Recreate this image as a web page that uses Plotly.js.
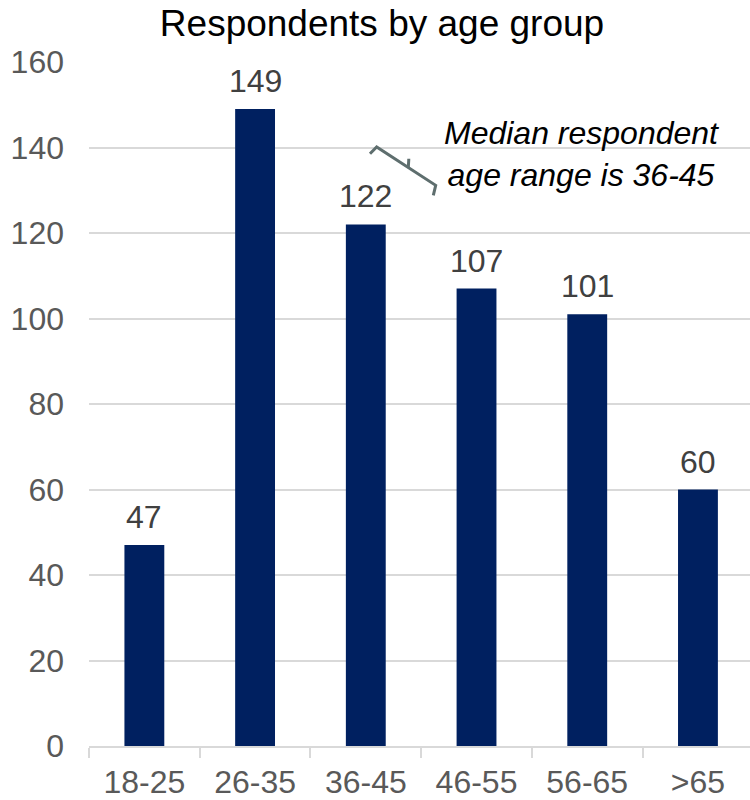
<!DOCTYPE html>
<html>
<head>
<meta charset="utf-8">
<script src="https://cdn.plot.ly/plotly-3.0.1.min.js"></script>
<style>
  html, body { margin: 0; padding: 0; background: #ffffff; }
  #chart { width: 750px; height: 800px; }
</style>
</head>
<body>
<div id="chart"></div>
<script>
// Survey respondents per age bracket
const ageGroups = ['18-25', '26-35', '36-45', '46-55', '56-65', '>65'];
const respondents = [47, 149, 122, 107, 101, 60];
const yTicks = [0, 20, 40, 60, 80, 100, 120, 140, 160];

const chartTitle = 'Respondents by age group';
const noteLines = ['Median respondent', 'age range is 36-45'];

const FONT = 'Liberation Sans, Arial, Helvetica, sans-serif';

// Plot area in page pixels, used to place the callout bracket and note
const PLOT = { left: 89, right: 750, top: 62, bottom: 746 };
function toPaper(px, py) {
  return [
    (px - PLOT.left) / (PLOT.right - PLOT.left),
    (PLOT.bottom - py) / (PLOT.bottom - PLOT.top)
  ];
}
function pathFrom(points) {
  return points.map((p, i) => {
    const q = toPaper(p[0], p[1]);
    return (i === 0 ? 'M' : 'L') + q[0].toFixed(4) + ',' + q[1].toFixed(4);
  }).join(' ');
}

const barTrace = {
  type: 'bar',
  x: ageGroups,
  y: respondents,
  marker: { color: '#002060' },
  hoverinfo: 'skip'
};

// Value labels above each bar
const valueLabels = ageGroups.map((g, i) => ({
  x: g,
  y: respondents[i],
  xref: 'x',
  yref: 'y',
  text: String(respondents[i]),
  showarrow: false,
  yanchor: 'bottom',
  yshift: 8,
  font: { family: FONT, size: 32, color: '#404040' }
}));

const notePos = toPaper(581, 154);
const note = {
  xref: 'paper',
  yref: 'paper',
  x: notePos[0],
  y: notePos[1],
  xanchor: 'center',
  yanchor: 'middle',
  align: 'center',
  showarrow: false,
  text: '<i>' + noteLines.join('<br>') + '</i>',
  font: { family: FONT, size: 32, color: '#000000' }
};

// Bracket pointing from the note towards the 36-45 bar
const bracketStyle = { color: '#5e6e6e', width: 3 };
const bracketShapes = [
  { type: 'path', xref: 'paper', yref: 'paper',
    path: pathFrom([[370, 153.7], [376.7, 147], [435.7, 185.3], [433.3, 195.3]]),
    line: bracketStyle },
  { type: 'path', xref: 'paper', yref: 'paper',
    path: pathFrom([[408.3, 167.5], [408.8, 158.7]]),
    line: bracketStyle }
];

const layout = {
  width: 750,
  height: 800,
  margin: { l: PLOT.left, r: 750 - PLOT.right, t: PLOT.top, b: 800 - PLOT.bottom },
  paper_bgcolor: '#ffffff',
  plot_bgcolor: '#ffffff',
  showlegend: false,
  bargap: 0.64,
  font: { family: FONT },
  title: {
    text: chartTitle,
    font: { family: FONT, size: 37, color: '#000000' },
    x: 382 / 750,
    xanchor: 'center',
    xref: 'container',
    y: 1 - 23 / 800,
    yanchor: 'middle',
    yref: 'container'
  },
  xaxis: {
    type: 'category',
    range: [-0.5, 5.47],
    showline: true,
    linecolor: '#d9d9d9',
    linewidth: 2,
    ticks: 'outside',
    tickson: 'boundaries',
    ticklen: 10,
    tickwidth: 2,
    tickcolor: '#d9d9d9',
    showgrid: false,
    zeroline: false,
    ticklabelstandoff: 7,
    tickfont: { family: FONT, size: 32, color: '#595959' },
    fixedrange: true
  },
  yaxis: {
    range: [0, 160],
    tickvals: yTicks,
    ticktext: yTicks.map(String),
    showline: false,
    ticks: '',
    showgrid: true,
    gridcolor: '#d9d9d9',
    gridwidth: 2,
    zeroline: false,
    ticklabelstandoff: 24,
    tickfont: { family: FONT, size: 32, color: '#595959' },
    fixedrange: true
  },
  annotations: valueLabels.concat([note]),
  shapes: bracketShapes
};

Plotly.newPlot('chart', [barTrace], layout, { displayModeBar: false, staticPlot: true });
</script>
</body>
</html>
